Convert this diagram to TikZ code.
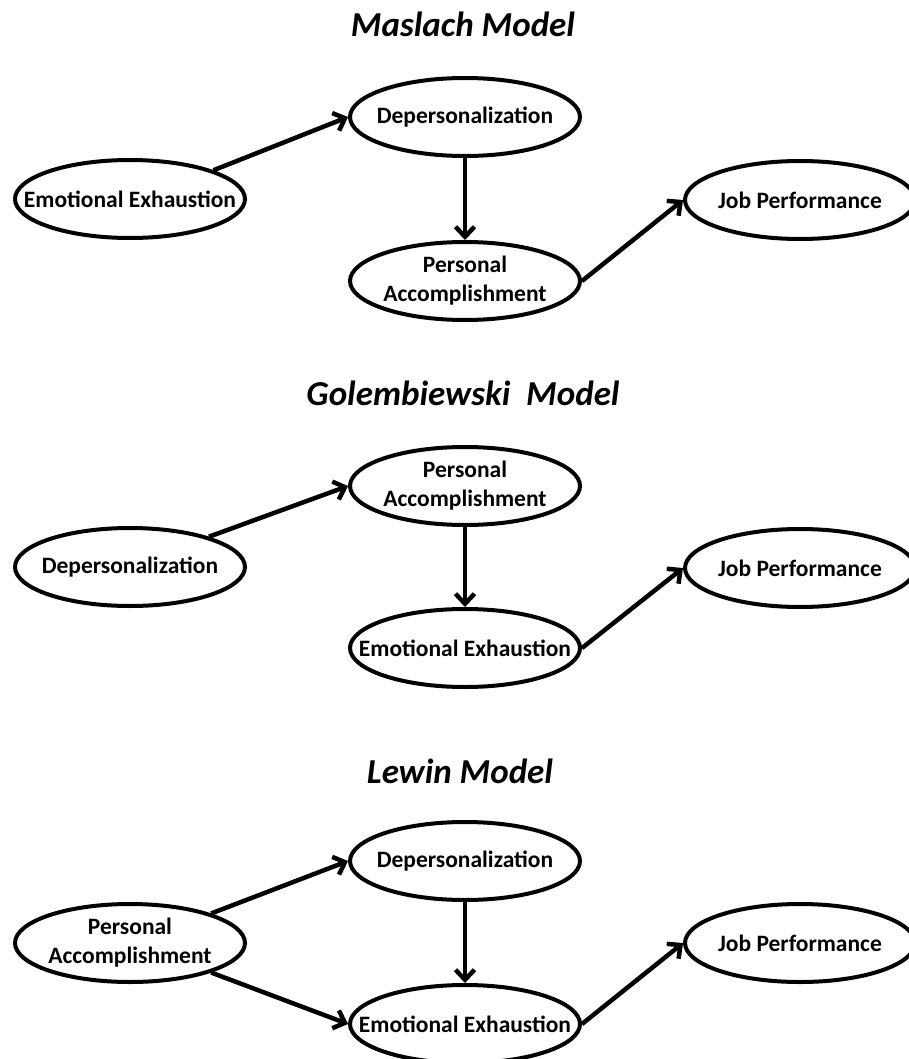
\documentclass[tikz,border=0pt]{standalone}
\usepackage{fontspec}
\setmainfont{Carlito}
\usetikzlibrary{shapes.geometric,arrows.meta}
\begin{document}
\begin{tikzpicture}[x=1pt,y=-1pt,
  ell/.style={ellipse, draw=black, line width=4pt, minimum width=230pt, minimum height=78pt, inner sep=0pt,
    label={[font=\fontsize{23.5}{29}\selectfont\bfseries, align=center]center:#1}},
  ttl/.style={font=\fontsize{35}{40}\selectfont\bfseries\itshape, inner sep=0pt},
  conn/.style={line width=4.5pt, -{Straight Barb[length=10pt,width=19pt]}}]
\useasboundingbox (0,0) rectangle (908,1059);
% Maslach
\node[ttl] (t1) at (463,24) {Maslach Model};
\node[ell=Depersonalization] (dep1) at (465,117) {};
\node[ell=Emotional Exhaustion] (ee1) at (130,199) {};
\node[ell=Job Performance] (jp1) at (800,200) {};
\node[ell={Personal\\Accomplishment}] (pa1) at (465,281) {};
\draw[conn] (ee1.19) -- (dep1.west);
\draw[conn] (dep1.south) -- (pa1.north);
\draw[conn] (pa1.east) -- (jp1.west);
% Golembiewski
\node[ttl] (t2) at (463,393) {Golembiewski\ \ Model};
\node[ell={Personal\\Accomplishment}] (pa2) at (465,486) {};
\node[ell=Depersonalization] (dep2) at (130,567) {};
\node[ell=Job Performance] (jp2) at (800,568) {};
\node[ell=Emotional Exhaustion] (ee2) at (465,648) {};
\draw[conn] (dep2.21) -- (pa2.west);
\draw[conn] (pa2.south) -- (ee2.north);
\draw[conn] (ee2.east) -- (jp2.west);
% Lewin
\node[ttl] (t3) at (460,771) {Lewin Model};
\node[ell=Depersonalization] (dep3) at (465,861) {};
\node[ell={Personal\\Accomplishment}] (pa3) at (130,943) {};
\node[ell=Job Performance] (jp3) at (800,943) {};
\node[ell=Emotional Exhaustion] (ee3) at (465,1024) {};
\draw[conn] (pa3.20) -- (dep3.west);
\draw[conn] (pa3.-20) -- (ee3.west);
\draw[conn] (dep3.south) -- (ee3.north);
\draw[conn] (ee3.east) -- (jp3.west);
\end{tikzpicture}
\end{document}
